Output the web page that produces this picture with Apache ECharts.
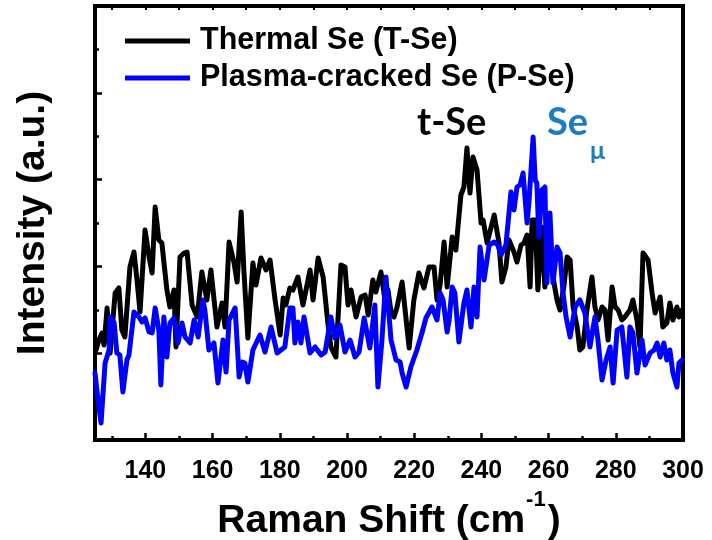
<!DOCTYPE html>
<html>
<head>
<meta charset="utf-8">
<script src="https://cdn.jsdelivr.net/npm/echarts@6/dist/echarts.min.js"></script>
<style>
  html, body { margin: 0; padding: 0; background: #fff; }
  #chart { width: 712px; height: 540px; }
</style>
</head>
<body>
<div id="chart"></div>
<script>
// Raman spectra, [shift (cm^-1), intensity (a.u.)]
const thermalSe = [
  [125.3, 90], [126.2, 100], [127.1, 107], [127.7, 95], [128.6, 132], [129.5, 87], [131.0, 147], [132.1, 152],
  [133.0, 110], [133.9, 103], [135.4, 173], [136.6, 188], [137.5, 160], [138.4, 128], [139.9, 210], [141.1, 183],
  [142.0, 167], [142.9, 233], [144.0, 200], [144.9, 197], [146.4, 150], [147.3, 133], [148.5, 150], [149.1, 93],
  [150.3, 183], [151.5, 187], [152.4, 188], [153.9, 135], [155.4, 123], [156.8, 168], [158.3, 140], [159.5, 170],
  [161.3, 113], [162.8, 137], [163.7, 113], [164.9, 198], [166.4, 177], [167.3, 158], [168.5, 228], [169.3, 170],
  [170.5, 102], [172.0, 177], [172.9, 155], [174.4, 182], [175.9, 170], [177.1, 180], [178.6, 140], [180.1, 105],
  [181.0, 142], [181.8, 135], [183.0, 152], [183.9, 150], [185.4, 163], [186.9, 135], [189.0, 170], [189.9, 140],
  [191.4, 182], [192.9, 163], [194.3, 117], [195.2, 93], [196.7, 83], [198.2, 175], [199.4, 173], [200.3, 135],
  [201.2, 150], [202.7, 123], [204.2, 143], [205.4, 145], [206.3, 125], [207.7, 160], [208.6, 148], [210.1, 168],
  [211.3, 140], [212.2, 150], [213.1, 128], [214.0, 123], [214.9, 133], [216.4, 158], [218.5, 92], [219.9, 140],
  [221.4, 167], [222.9, 152], [224.4, 173], [225.9, 173], [226.8, 140], [227.7, 155], [228.9, 198], [229.8, 153],
  [231.3, 203], [232.4, 190], [233.9, 245], [234.8, 253], [235.7, 292], [236.6, 247], [237.5, 283], [238.7, 270],
  [239.9, 217], [240.5, 220], [241.7, 197], [243.8, 225], [245.2, 198], [246.1, 158], [247.3, 173], [248.2, 200],
  [249.7, 188], [250.6, 178], [251.8, 195], [252.7, 197], [253.6, 205], [254.5, 153], [255.1, 220], [256.0, 220],
  [256.8, 150], [258.0, 213], [258.9, 153], [260.1, 200], [261.3, 163], [262.5, 140], [263.4, 130], [264.6, 155],
  [265.5, 183], [266.4, 180], [267.3, 133], [268.5, 113], [269.3, 90], [270.2, 93], [271.4, 130], [272.9, 163],
  [273.8, 133], [274.7, 120], [275.9, 133], [276.8, 130], [277.7, 100], [278.9, 153], [279.8, 133], [280.7, 130],
  [281.8, 120], [282.7, 123], [284.2, 130], [285.1, 140], [286.3, 120], [287.2, 93], [288.1, 187], [289.6, 180],
  [290.8, 147], [291.7, 127], [293.2, 143], [294.0, 113], [295.2, 117], [296.1, 137], [297.0, 120], [298.2, 133],
  [298.8, 123], [299.7, 130]
];

const plasmaSe = [
  [125.0, 67], [125.9, 40], [126.8, 17], [128.0, 77], [129.2, 90], [129.5, 123], [130.7, 117], [131.5, 87],
  [132.4, 85], [133.3, 48], [134.5, 80], [135.1, 85], [136.6, 128], [138.1, 123], [139.0, 118], [139.9, 122],
  [141.1, 108], [142.0, 107], [142.9, 132], [144.0, 110], [144.6, 55], [145.5, 123], [146.4, 83], [147.3, 117],
  [148.5, 122], [149.7, 97], [150.9, 117], [151.8, 103], [153.3, 97], [154.5, 120], [155.7, 103], [157.1, 140],
  [157.7, 130], [158.9, 90], [160.4, 97], [161.6, 57], [163.1, 100], [164.0, 68], [164.9, 120], [166.7, 132],
  [167.9, 63], [168.8, 78], [169.6, 77], [170.5, 58], [172.0, 90], [174.1, 105], [175.6, 88], [177.4, 113],
  [179.2, 87], [181.5, 93], [183.0, 132], [183.9, 132], [184.5, 97], [185.4, 118], [186.3, 97], [187.2, 123],
  [189.0, 87], [190.5, 93], [192.3, 85], [193.5, 88], [195.2, 123], [196.4, 102], [197.9, 115], [199.4, 88],
  [200.9, 100], [202.4, 83], [203.6, 88], [205.1, 122], [206.8, 92], [208.3, 135], [209.2, 53], [210.4, 100],
  [211.6, 163], [213.1, 100], [214.6, 80], [215.8, 78], [216.4, 67], [217.6, 53], [219.0, 73], [220.8, 90],
  [222.3, 107], [223.5, 122], [225.3, 133], [226.8, 120], [227.7, 147], [228.6, 140], [229.8, 108], [230.4, 120],
  [231.3, 153], [232.1, 147], [233.3, 98], [234.8, 137], [235.7, 150], [236.9, 113], [237.8, 153], [238.7, 123],
  [239.6, 193], [240.8, 160], [242.3, 195], [243.8, 198], [244.9, 195], [245.8, 185], [247.3, 195], [248.8, 248],
  [249.7, 230], [250.6, 253], [251.5, 255], [252.4, 267], [253.6, 217], [254.2, 240], [255.4, 303], [256.0, 260],
  [256.5, 257], [257.1, 203], [258.0, 250], [258.9, 253], [259.5, 157], [260.4, 227], [261.3, 157], [262.5, 193],
  [263.4, 187], [264.3, 147], [265.2, 123], [266.4, 103], [267.9, 133], [269.3, 140], [270.8, 127], [272.3, 93],
  [273.8, 123], [274.7, 100], [275.9, 60], [277.1, 80], [278.3, 93], [279.2, 57], [280.4, 110], [281.8, 113],
  [283.3, 63], [284.2, 113], [285.1, 107], [286.3, 67], [287.8, 100], [288.7, 75], [290.2, 87], [291.4, 90],
  [292.3, 97], [293.2, 83], [294.3, 97], [295.2, 80], [296.1, 90], [297.0, 67], [298.2, 53], [298.8, 77],
  [299.7, 80]
];

const seriesNames = ['Thermal Se (T-Se)', 'Plasma-cracked Se (P-Se)'];
const majorShiftTicks = [140, 160, 180, 200, 220, 240, 260, 280, 300];
const minorShiftTicks = [130, 150, 170, 190, 210, 230, 250, 270, 290];
const shiftRange = [125, 300];
const intensityRange = [0, 434];
const intensityStep = 86.8;

const FONT = '"Liberation Sans", Arial, sans-serif';
const ANNO_FONT = 'Lato, "Open Sans", sans-serif';
const SE_MU_COLOR = '#1b7cc2';

const chart = echarts.init(document.getElementById('chart'), null, { renderer: 'canvas' });

const frameLine = { show: true, lineStyle: { color: '#000', width: 4, cap: 'square' } };

chart.setOption({
  animation: false,
  backgroundColor: '#fff',
  grid: { left: 95, right: 29, top: 6, bottom: 100, containLabel: false, outerBoundsMode: 'none' },
  legend: {
    orient: 'vertical',
    left: 120,
    top: 20,
    itemWidth: 65,
    itemHeight: 5,
    itemGap: 5,
    icon: 'rect',
    data: seriesNames,
    textStyle: { fontFamily: FONT, fontWeight: 'bold', fontSize: 30.5, lineHeight: 32, color: '#000', padding: [0, 0, 0, 5] }
  },
  xAxis: [
    {
      type: 'value', position: 'bottom', min: shiftRange[0], max: shiftRange[1],
      axisLine: frameLine,
      axisTick: { show: true, inside: true, length: 7, lineStyle: { width: 2.5, color: '#000' }, customValues: majorShiftTicks },
      axisLabel: { show: true, customValues: majorShiftTicks, margin: 19, fontFamily: FONT, fontWeight: 'bold', fontSize: 25, color: '#000' },
      splitLine: { show: false },
      name: '{t|Raman Shift (cm}{s|-1}{t|)}',
      nameLocation: 'middle',
      nameGap: 34,
      nameTextStyle: {
        rich: {
          t: { fontFamily: FONT, fontWeight: 'bold', fontSize: 39, color: '#000', height: 46, verticalAlign: 'bottom' },
          s: { fontFamily: FONT, fontWeight: 'bold', fontSize: 22, color: '#000', height: 46, verticalAlign: 'top', padding: [0, 2, 21, 1] }
        }
      }
    },
    {
      type: 'value', position: 'bottom', min: shiftRange[0], max: shiftRange[1],
      axisLine: { show: false },
      axisTick: { show: true, inside: true, length: 4, lineStyle: { width: 2.5, color: '#000' }, customValues: minorShiftTicks },
      axisLabel: { show: false },
      splitLine: { show: false }
    },
    {
      type: 'value', position: 'top', min: shiftRange[0], max: shiftRange[1],
      axisLine: frameLine,
      axisTick: { show: true, inside: true, length: 4, lineStyle: { width: 2, color: '#000' }, customValues: majorShiftTicks.concat(minorShiftTicks) },
      axisLabel: { show: false },
      splitLine: { show: false }
    }
  ],
  yAxis: [
    {
      type: 'value', position: 'left', min: intensityRange[0], max: intensityRange[1], interval: intensityStep,
      axisLine: frameLine,
      axisTick: { show: true, inside: true, length: 7, lineStyle: { width: 2.5, color: '#000' } },
      minorTick: { show: true, splitNumber: 2, length: 4, lineStyle: { width: 2.5, color: '#000' } },
      axisLabel: { show: false },
      splitLine: { show: false },
      name: 'Intensity (a.u.)',
      nameLocation: 'middle',
      nameGap: 42,
      nameRotate: 90,
      nameTextStyle: { fontFamily: FONT, fontWeight: 'bold', fontSize: 39, color: '#000' }
    },
    {
      type: 'value', position: 'right', min: intensityRange[0], max: intensityRange[1],
      axisLine: frameLine,
      axisTick: { show: false },
      axisLabel: { show: false },
      splitLine: { show: false }
    }
  ],
  series: [
    {
      name: seriesNames[0], type: 'line', data: thermalSe, xAxisIndex: 0, yAxisIndex: 0,
      showSymbol: false, symbol: 'none', color: '#000',
      lineStyle: { color: '#000', width: 5, join: 'round', cap: 'round' }, z: 2
    },
    {
      name: seriesNames[1], type: 'line', data: plasmaSe, xAxisIndex: 0, yAxisIndex: 0,
      showSymbol: false, symbol: 'none', color: '#0000ff',
      lineStyle: { color: '#0000ff', width: 5, join: 'round', cap: 'round' }, z: 3
    }
  ],
  graphic: [
    {
      type: 'text', left: 417, top: 104, z: 10,
      style: { text: 't-Se', fontFamily: ANNO_FONT, fontWeight: 'bold', fontSize: 38, fill: '#000' }
    },
    {
      type: 'text', left: 547, top: 104, z: 10,
      style: {
        text: '{b|Se}{s|μ}',
        rich: {
          b: { fontFamily: ANNO_FONT, fontWeight: 'bold', fontSize: 38, fill: SE_MU_COLOR, color: SE_MU_COLOR, height: 60, verticalAlign: 'top' },
          s: { fontFamily: ANNO_FONT, fontWeight: 'bold', fontSize: 25, fill: SE_MU_COLOR, color: SE_MU_COLOR, padding: [28, 0, 0, 2], height: 60, verticalAlign: 'top' }
        }
      }
    }
  ]
});
</script>
</body>
</html>
